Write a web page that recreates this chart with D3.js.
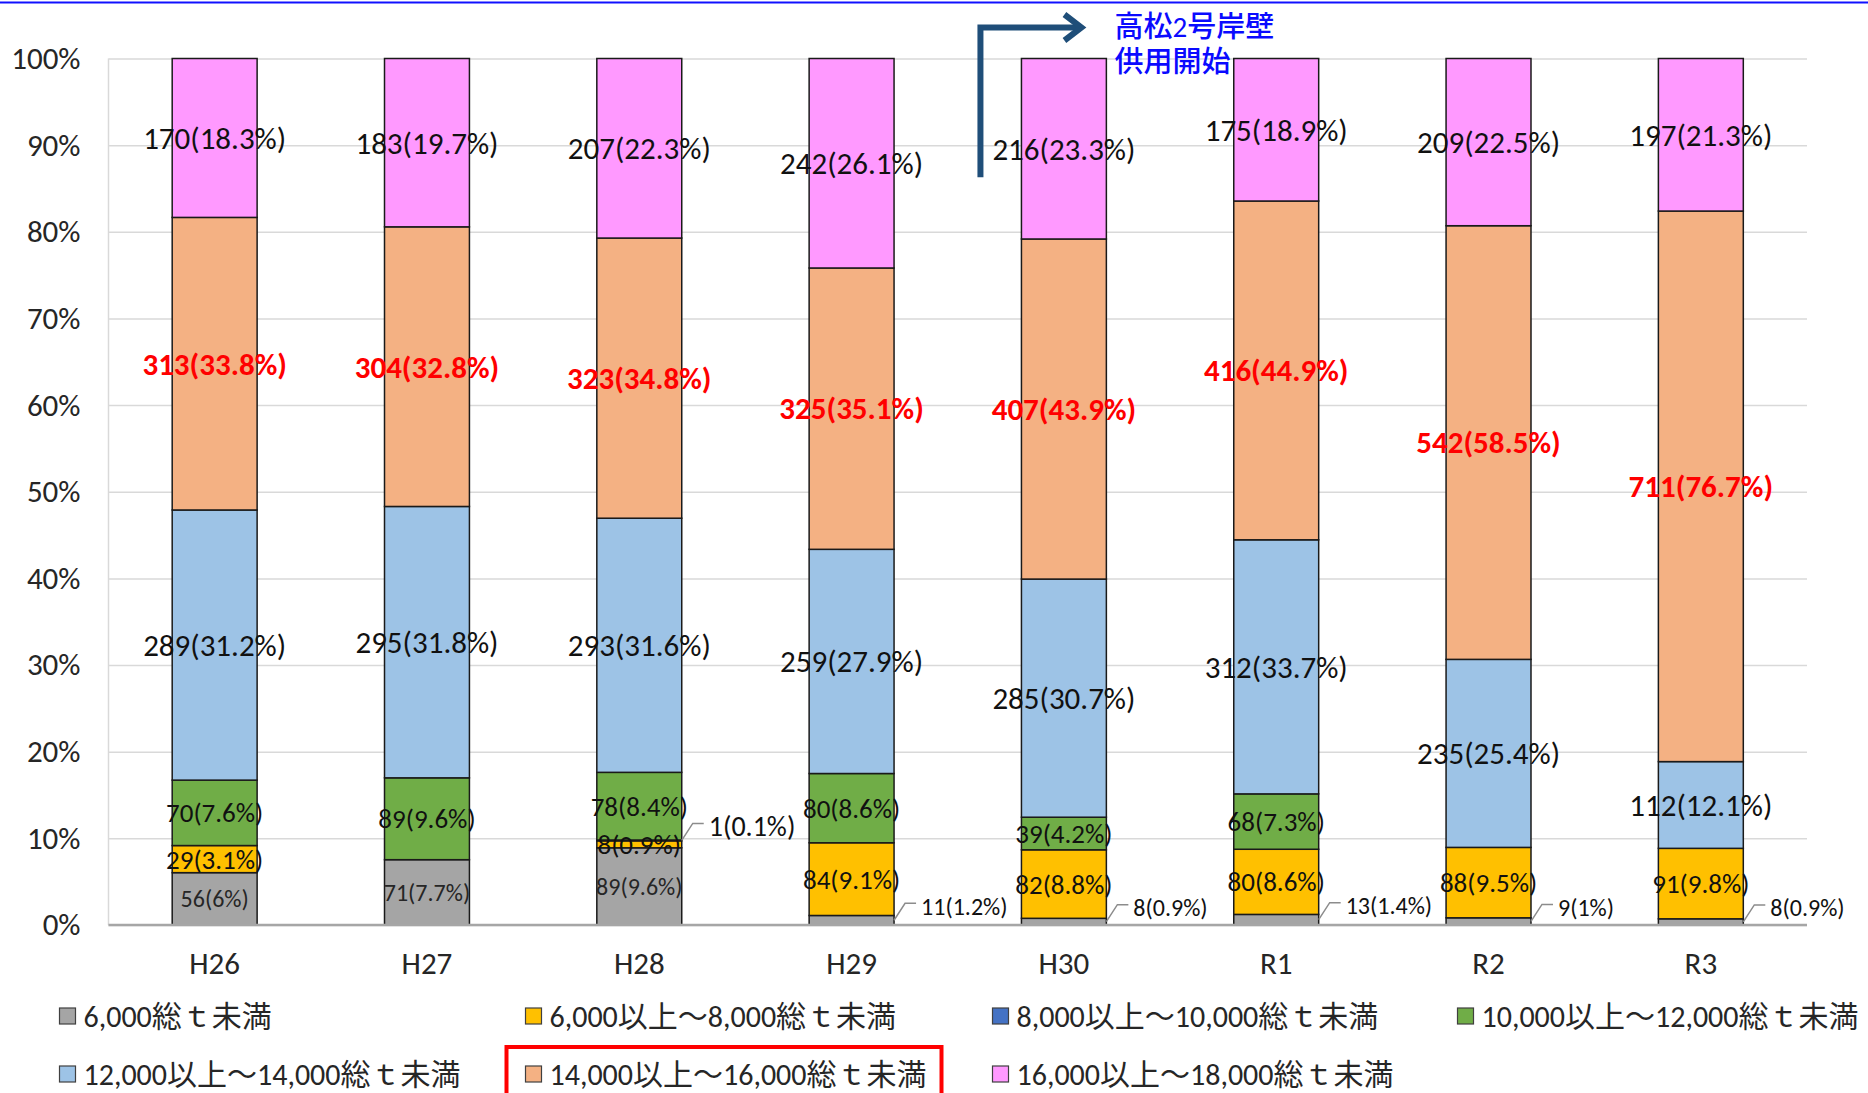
<!DOCTYPE html>
<html>
<head>
<meta charset="utf-8">
<script src="https://cdnjs.cloudflare.com/ajax/libs/d3/7.8.5/d3.min.js"></script>
<style>
  body { margin: 0; background: #fff; }
  svg text { font-family: Carlito, Lato, "Noto Sans CJK JP", sans-serif; }
  .grid line { stroke: #d9d9d9; stroke-width: 1.5px; }
  .grid path { display: none; }
  .bar { stroke: #1a1a1a; stroke-width: 1.5px; }
</style>
</head>
<body>
<script>

// fiscal years
var years = ["H26", "H27", "H28", "H29", "H30", "R1", "R2", "R3"];

// ship counts per tonnage class (bottom to top of each bar)
var under6000   = [56, 71, 89, 11, 8, 13, 9, 8];
var from6000    = [29, 0, 8, 84, 82, 80, 88, 91];
var from8000    = [0, 0, 1, 0, 0, 0, 0, 0];
var from10000   = [70, 89, 78, 80, 39, 68, 0, 0];
var from12000   = [289, 295, 293, 259, 285, 312, 235, 112];
var from14000   = [313, 304, 323, 325, 407, 416, 542, 711];
var from16000   = [170, 183, 207, 242, 216, 175, 209, 197];

// shares as printed in the labels (%)
var pctUnder6000 = [6, 7.7, 9.6, 1.2, 0.9, 1.4, 1, 0.9];
var pct6000      = [3.1, 0, 0.9, 9.1, 8.8, 8.6, 9.5, 9.8];
var pct8000      = [0, 0, 0.1, 0, 0, 0, 0, 0];
var pct10000     = [7.6, 9.6, 8.4, 8.6, 4.2, 7.3, 0, 0];
var pct12000     = [31.2, 31.8, 31.6, 27.9, 30.7, 33.7, 25.4, 12.1];
var pct14000     = [33.8, 32.8, 34.8, 35.1, 43.9, 44.9, 58.5, 76.7];
var pct16000     = [18.3, 19.7, 22.3, 26.1, 23.3, 18.9, 22.5, 21.3];

var seriesNames = [
  "6,000総ｔ未満",
  "6,000以上～8,000総ｔ未満",
  "8,000以上～10,000総ｔ未満",
  "10,000以上～12,000総ｔ未満",
  "12,000以上～14,000総ｔ未満",
  "14,000以上～16,000総ｔ未満",
  "16,000以上～18,000総ｔ未満"
];
var seriesColors = ["#a5a5a5", "#ffc000", "#4472c4", "#70ad47", "#9dc3e6", "#f4b183", "#ff99ff"];

// labels that sit outside the bar with a leader line: [series index, year]
var outsideLabels = [[0, "H29"], [0, "H30"], [0, "R1"], [0, "R2"], [0, "R3"], [2, "H28"]];

var yTicks = [0, 0.1, 0.2, 0.3, 0.4, 0.5, 0.6, 0.7, 0.8, 0.9, 1];

var counts = [under6000, from6000, from8000, from10000, from12000, from14000, from16000];
var pcts = [pctUnder6000, pct6000, pct8000, pct10000, pct12000, pct14000, pct16000];
var keys = d3.range(counts.length);

var rows = years.map(function(y, i) {
  var r = {year: y};
  keys.forEach(function(k) { r[k] = counts[k][i]; });
  return r;
});

var width = 1868, height = 1093;
var plot = {left: 108.5, right: 1807, top: 58.5, bottom: 925};

var svg = d3.select("body").append("svg")
    .attr("width", width)
    .attr("height", height);

// slide border line at the top
svg.append("line")
    .attr("x1", 0).attr("x2", width)
    .attr("y1", 2.5).attr("y2", 2.5)
    .attr("stroke", "#1010ff").attr("stroke-width", 2);

var x = d3.scaleBand()
    .domain(years)
    .range([plot.left, plot.right])
    .paddingInner(0.6)
    .paddingOuter(0.3);

var y = d3.scaleLinear()
    .domain([0, 1])
    .range([plot.bottom, plot.top]);

// gridlines + y labels
var yAxis = svg.append("g")
    .attr("class", "grid")
    .attr("transform", "translate(" + plot.left + ",0)")
    .call(d3.axisLeft(y)
      .tickValues(yTicks)
      .tickFormat(d3.format(".0%"))
      .tickSize(-(plot.right - plot.left))
      .tickPadding(28));
yAxis.selectAll("text")
    .attr("font-size", 31)
    .attr("fill", "#262626");

// left axis line
svg.append("line")
    .attr("x1", plot.left).attr("x2", plot.left)
    .attr("y1", plot.top).attr("y2", plot.bottom)
    .attr("stroke", "#d9d9d9").attr("stroke-width", 1.5);

var stack = d3.stack()
    .keys(keys)
    .offset(d3.stackOffsetExpand);
var layers = stack(rows);

var layerG = svg.selectAll(".layer")
    .data(layers)
  .enter().append("g")
    .attr("class", "layer")
    .attr("fill", function(d) { return seriesColors[d.key]; });

layerG.selectAll("rect")
    .data(function(d) { return d.filter(function(p) { return p[1] - p[0] > 0; }); })
  .enter().append("rect")
    .attr("class", "bar")
    .attr("x", function(d) { return x(d.data.year); })
    .attr("width", x.bandwidth())
    .attr("y", function(d) { return y(d[1]); })
    .attr("height", function(d) { return y(d[0]) - y(d[1]); });

// baseline
svg.append("line")
    .attr("x1", plot.left).attr("x2", plot.right)
    .attr("y1", plot.bottom).attr("y2", plot.bottom)
    .attr("stroke", "#a6a6a6").attr("stroke-width", 2.5);

// x labels
var xAxis = svg.append("g")
    .attr("transform", "translate(0," + plot.bottom + ")")
    .call(d3.axisBottom(x).tickSize(0).tickPadding(27));
xAxis.select(".domain").remove();
xAxis.selectAll("text")
    .attr("font-size", 31)
    .attr("fill", "#262626");

// data labels
var labelSize = [24, 27, 28, 27, 31, 31, 31];
var isOutside = function(k, yr) {
  return outsideLabels.some(function(o) { return o[0] === k && o[1] === yr; });
};

var labels = [];
layers.forEach(function(layer) {
  var k = layer.key;
  layer.forEach(function(p, i) {
    if (counts[k][i] === 0) return;
    labels.push({k: k, i: i, year: p.data.year, y0: p[0], y1: p[1],
      text: counts[k][i] + "(" + pcts[k][i] + "%)",
      outside: isOutside(k, p.data.year)});
  });
});

var lab = svg.append("g");

lab.selectAll(".inlabel")
    .data(labels.filter(function(d) { return !d.outside; }))
  .enter().append("text")
    .attr("class", "inlabel")
    .attr("x", function(d) { return x(d.year) + x.bandwidth() / 2; })
    .attr("y", function(d) { return y((d.y0 + d.y1) / 2); })
    .attr("dy", "0.35em")
    .attr("text-anchor", "middle")
    .attr("font-size", function(d) { return labelSize[d.k]; })
    .attr("font-weight", function(d) { return d.k === 5 ? "bold" : "normal"; })
    .attr("fill", function(d) { return d.k === 5 ? "#ff0000" : (d.k === 0 ? "#262626" : "#111"); })
    .text(function(d) { return d.text; });

var outs = labels.filter(function(d) { return d.outside; });

lab.selectAll(".leader")
    .data(outs)
  .enter().append("path")
    .attr("class", "leader")
    .attr("fill", "none")
    .attr("stroke", "#8c8c8c")
    .attr("stroke-width", 1.5)
    .attr("d", function(d) {
      var bx = x(d.year) + x.bandwidth();
      var by = y((d.y0 + d.y1) / 2);
      var ly = by - 17;
      return "M" + bx + "," + by + "L" + (bx + 11) + "," + ly + "L" + (bx + 22) + "," + ly;
    });

lab.selectAll(".outlabel")
    .data(outs)
  .enter().append("text")
    .attr("class", "outlabel")
    .attr("x", function(d) { return x(d.year) + x.bandwidth() + 27; })
    .attr("y", function(d) { return y((d.y0 + d.y1) / 2) - 14; })
    .attr("dy", "0.35em")
    .attr("font-size", function(d) { return labelSize[d.k]; })
    .attr("fill", "#111")
    .text(function(d) { return d.text; });

// annotation: berth opening
var ax = x("H30") - 41;
var ann = svg.append("g");
ann.append("path")
    .attr("fill", "none")
    .attr("stroke", "#1f4e79")
    .attr("stroke-width", 6)
    .attr("d", "M" + ax + "," + (y(0.863)) + "V" + (y(1) - 31) + "H" + (ax + 100));
ann.append("path")
    .attr("fill", "none")
    .attr("stroke", "#1f4e79")
    .attr("stroke-width", 6)
    .attr("d", "M" + (ax + 84) + "," + (y(1) - 44) + "L" + (ax + 101) + "," + (y(1) - 31) + "L" + (ax + 84) + "," + (y(1) - 18));
ann.append("text")
    .attr("x", ax + 134).attr("y", y(1) - 32)
    .attr("dy", "0.35em")
    .attr("font-size", 29)
    .attr("font-weight", 500)
    .attr("fill", "#0a0aff")
    .text("高松2号岸壁");
ann.append("text")
    .attr("x", ax + 134).attr("y", y(1) + 3)
    .attr("dy", "0.35em")
    .attr("font-size", 29)
    .attr("font-weight", 500)
    .attr("fill", "#0a0aff")
    .text("供用開始");

// legend
var legCols = [59.5, 525.5, 992.5, 1457.5];
var legRows = [1016, 1074];
var legend = svg.append("g").selectAll(".leg")
    .data(seriesNames)
  .enter().append("g")
    .attr("class", "leg")
    .attr("transform", function(d, i) {
      return "translate(" + legCols[i % 4] + "," + legRows[Math.floor(i / 4)] + ")";
    });
legend.append("rect")
    .attr("x", 0).attr("y", -8)
    .attr("width", 16).attr("height", 16)
    .attr("fill", function(d, i) { return seriesColors[i]; })
    .attr("stroke", "#404040")
    .attr("stroke-width", 1.2);
legend.append("text")
    .attr("x", 24)
    .attr("dy", "0.36em")
    .attr("font-size", 30)
    .attr("fill", "#262626")
    .text(function(d) { return d; });

// highlight box round the 14,000-16,000 legend entry
svg.append("rect")
    .attr("x", legCols[1] - 19)
    .attr("y", legRows[1] - 27)
    .attr("width", 435)
    .attr("height", 80)
    .attr("fill", "none")
    .attr("stroke", "#ff0000")
    .attr("stroke-width", 4);

</script>
</body>
</html>
